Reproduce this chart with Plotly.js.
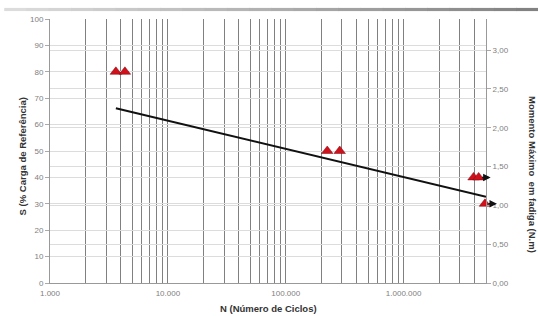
<!DOCTYPE html>
<html>
<head>
<meta charset="utf-8">
<script src="https://cdn.plot.ly/plotly-3.0.1.min.js"></script>
<style>html,body{margin:0;padding:0;background:#fff;}#chart{width:538px;height:316px;}</style>
</head>
<body>
<div id="chart"></div>
<script>
// Data
const pointsN = [3620, 4320, 225000, 287000, 3920000, 4330000, 4900000];
const pointsS = [80, 80, 50, 50, 40, 40, 30];
const fitN = [3620, 5000000];
const fitS = [66.2, 32.7];
const runoutN = [4330000, 4900000];
const runoutS = [40, 30];
const decadeLabels = ["1.000", "10.000", "100.000", "1.000.000"];
const decades = [3, 4, 5, 6];
const xMax = 5000000;
const leftRange = [0, 100];
const rightRange = [0, 3.4];

const tickvals = [], ticktext = [];
decades.forEach((d, i) => {
  for (let m = 1; m <= 9; m++) {
    const v = m * Math.pow(10, d);
    if (v > xMax) break;
    tickvals.push(v);
    ticktext.push(m === 1 ? decadeLabels[i] : "");
  }
});

const FONT = "Liberation Sans, Arial, sans-serif";
const traces = [
  {x: fitN, y: fitS, mode: "lines", type: "scatter",
   line: {color: "#111", width: 2}, hoverinfo: "skip"},
  {x: pointsN, y: pointsS, mode: "markers", type: "scatter", cliponaxis: false,
   marker: {symbol: "triangle-up", size: 10, color: "#d0101a", line: {color: "#7a0a10", width: 0.5}}},
  {x: [], y: [], yaxis: "y2", type: "scatter", mode: "markers", showlegend: false}
];

// gradient bar at the top
const shapes = [];
const segs = 24, x0 = -0.105, x1 = 1.12;
for (let i = 0; i < segs; i++) {
  const t = i / (segs - 1);
  const c = Math.round(220 - t * 90);
  shapes.push({type: "rect", xref: "paper", yref: "paper",
    x0: x0 + (x1 - x0) * i / segs, x1: x0 + (x1 - x0) * (i + 1) / segs + 0.002,
    y0: 1.030, y1: 1.042, line: {width: 0}, fillcolor: `rgb(${c},${c},${c})`});
}

const titleFont = {family: FONT, size: 9.5, color: "#333", weight: "bold"};
const annotations = [
  {text: "S (% Carga de Referência)", xref: "paper", yref: "paper", x: -0.064, y: 0.48,
   xanchor: "center", yanchor: "middle", textangle: -90, showarrow: false, font: titleFont},
  {text: "Momento Máximo  em fadiga (N.m)", xref: "paper", yref: "paper", x: 1.107, y: 0.41,
   xanchor: "center", yanchor: "middle", textangle: 90, showarrow: false, font: titleFont},
  {text: "N (Número de Ciclos)", xref: "paper", yref: "paper", x: 0.5, y: -0.095,
   xanchor: "center", yanchor: "middle", showarrow: false, font: titleFont}
];
runoutN.forEach((n, i) => {
  annotations.push({x: Math.log10(n), y: runoutS[i], xref: "x", yref: "y", text: "",
    showarrow: true, ax: -10, ay: 0, xshift: 12, arrowhead: 2, arrowsize: 1, arrowwidth: 1.5,
    arrowcolor: "#111"});
});

const tickFont = {family: FONT, size: 8, color: "#808080"};
const layout = {
  width: 538, height: 316,
  margin: {l: 50, r: 52, t: 19, b: 33},
  paper_bgcolor: "#fff", plot_bgcolor: "#fff",
  showlegend: false,
  separators: ",.",
  xaxis: {type: "log", range: [3, Math.log10(xMax)], tickvals: tickvals, ticktext: ticktext,
    showgrid: true, gridcolor: "#808080", gridwidth: 1, showline: true, linecolor: "#999",
    ticks: "", ticklabelstandoff: 2, tickfont: tickFont, zeroline: false, mirror: false},
  yaxis: {range: leftRange, dtick: 10, ticks: "outside", ticklen: 4, tickcolor: "#aaa",
    showgrid: true, gridcolor: "#dcdcdc", showline: true, linecolor: "#999", zeroline: false,
    tickfont: tickFont},
  yaxis2: {range: rightRange, dtick: 0.5, tickformat: ".2f", overlaying: "y", side: "right",
    ticks: "outside", ticklen: 4, tickcolor: "#aaa", showgrid: true, gridcolor: "#dcdcdc",
    showline: true, linecolor: "#999", zeroline: false, tickfont: tickFont},
  shapes: shapes,
  annotations: annotations
};
Plotly.newPlot("chart", traces, layout, {staticPlot: true, displayModeBar: false});
</script>
</body>
</html>
